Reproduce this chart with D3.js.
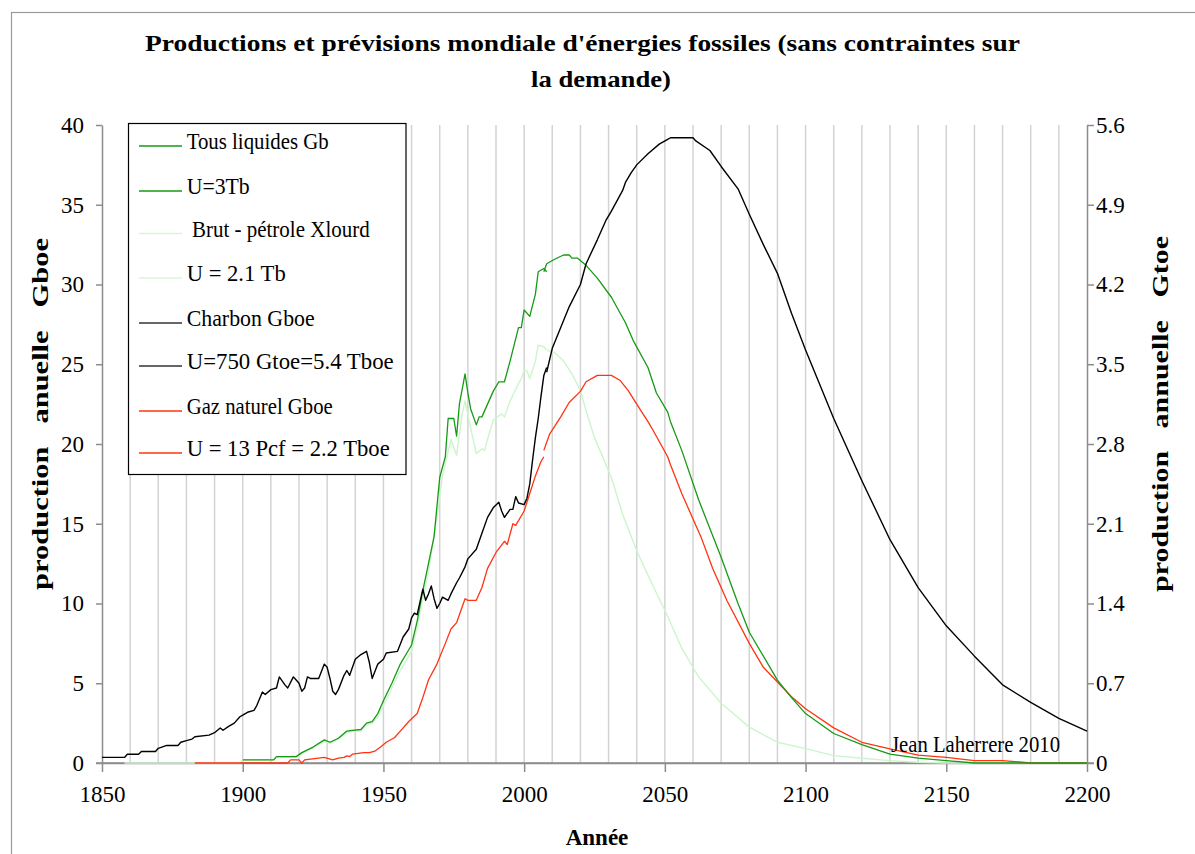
<!DOCTYPE html>
<html><head><meta charset="utf-8">
<script src="https://cdn.jsdelivr.net/npm/d3@7"></script>
<style>
html,body{margin:0;padding:0;background:#fff;}
svg{display:block;}
text{font-family:"Liberation Serif","Times New Roman",serif;fill:#000;}
</style></head>
<body>
<svg id="chart" width="1195" height="854"></svg>
<script>
// ---------- DATA ----------
const titleLines = ["Productions et prévisions mondiale d'énergies fossiles (sans contraintes sur", "la demande)"];
const xTicks = [1850, 1900, 1950, 2000, 2050, 2100, 2150, 2200];
const yTicksLeft = [0, 5, 10, 15, 20, 25, 30, 35, 40];
const yTicksRight = ["0", "0.7", "1.4", "2.1", "2.8", "3.5", "4.2", "4.9", "5.6"];
const legendLabels = ["Tous liquides Gb", "U=3Tb", " Brut - pétrole Xlourd", "U = 2.1 Tb", "Charbon Gboe", "U=750 Gtoe=5.4 Tboe", "Gaz naturel Gboe", "U = 13 Pcf = 2.2 Tboe"];

// Tous liquides Gb (historique)
const liqHistYears = [1900,1911,1912,1919,1921,1925,1929,1931,1934,1937,1939,1942,1944,1946,1948,1950,1953,1956,1958,1960,1962,1964,1966,1968,1970,1972,1973,1975,1976,1977,1979,1980,1981,1983,1984,1985,1987,1989,1991,1993,1995,1998,1999,2000,2002,2004,2005,2007,2008];
const liqHistVals  = [0.2,0.2,0.4,0.4,0.65,1.0,1.45,1.3,1.55,2.0,2.05,2.1,2.5,2.6,3.1,3.9,5.0,6.2,6.8,7.4,8.9,10.8,12.5,14.2,17.9,19.2,21.6,21.6,20.5,22.5,24.4,23.2,22.2,21.2,21.7,21.7,22.5,23.3,23.9,23.9,25.2,27.3,27.3,28.4,28.0,29.4,30.8,31.0,30.8];
// U=3Tb (prévision)
const liqFcYears = [2007,2008,2011,2014,2016,2017,2019,2022,2026,2031,2036,2039,2044,2047,2051,2052,2056,2062,2070,2076,2080,2090,2095,2100,2110,2120,2130,2140,2150,2160,2200];
const liqFcVals  = [30.8,31.3,31.6,31.85,31.85,31.65,31.65,31.2,30.4,29.2,27.6,26.4,24.8,23.2,22.0,21.4,19.6,16.5,12.9,10.0,8.2,5.2,4.1,3.1,1.85,1.15,0.55,0.3,0.15,0.0,0.0];

// Brut - pétrole Xlourd (historique)
const crudeHistYears = [1858,1899,1900,1911,1912,1919,1921,1925,1929,1931,1934,1937,1939,1942,1944,1946,1948,1950,1953,1956,1958,1960,1962,1964,1966,1969,1971,1974,1976,1978,1979,1981,1983,1985,1986,1987,1989,1992,1993,1995,1998,1999,2000,2001,2002,2004,2005,2007,2008];
const crudeHistVals  = [0,0,0.2,0.2,0.35,0.35,0.6,0.95,1.35,1.25,1.5,1.9,2.0,2.0,2.4,2.5,2.9,3.6,4.7,5.8,6.4,7.0,8.5,10.3,12.0,15.4,18.0,20.3,19.3,21.9,22.7,21.0,19.4,19.7,19.6,20.3,21.5,21.9,21.7,22.7,23.8,24.1,24.6,24.6,24.1,25.2,26.2,26.1,25.9];
// U = 2.1 Tb (prévision)
const crudeFcYears = [2008,2011,2014,2017,2020,2022,2025,2031,2035,2040,2045,2051,2056,2062,2070,2080,2090,2100,2110,2120,2130,2140,2150,2200];
const crudeFcVals  = [25.9,25.7,25.2,24.4,23.35,22.1,20.4,17.9,15.6,13.3,11.4,9.2,7.2,5.4,3.75,2.25,1.3,0.9,0.46,0.3,0.15,0.05,0,0];

// Charbon Gboe (historique)
const coalHistYears = [1850,1858,1859,1863,1864,1869,1870,1873,1877,1878,1880,1882,1883,1888,1890,1892,1893,1895,1897,1899,1900,1902,1904,1905,1907,1908,1910,1912,1913,1915,1916,1918,1919,1920,1921,1922,1923,1924,1927,1929,1930,1931,1932,1933,1934,1936,1937,1938,1940,1942,1944,1945,1946,1948,1950,1951,1955,1957,1959,1960,1961,1962,1964,1965,1966,1967,1968,1969,1970,1971,1973,1974,1976,1977,1979,1980,1983,1985,1987,1989,1991,1992,1993,1995,1996,1997,1998,2000,2001,2002,2003,2004,2005,2006,2007,2008];
const coalHistVals  = [0.35,0.35,0.55,0.55,0.72,0.72,0.92,1.1,1.1,1.3,1.4,1.5,1.65,1.75,1.9,2.2,2.05,2.3,2.5,2.9,3.0,3.2,3.3,3.6,4.45,4.3,4.6,4.7,5.4,4.9,4.7,5.4,5.2,5.0,4.5,4.7,5.4,5.3,5.3,6.2,6.0,5.3,4.5,4.3,4.6,5.5,5.8,5.5,6.5,6.8,7.0,6.3,5.3,6.2,6.5,6.9,7.0,7.9,8.4,9.1,9.4,9.3,10.9,10.2,10.6,11.1,10.3,9.7,10.0,10.4,10.2,10.6,11.3,11.6,12.3,12.8,13.4,14.4,15.4,16.0,16.35,15.8,15.4,15.9,15.9,16.7,16.3,16.2,16.6,17.5,19.0,20.4,21.6,23.0,24.3,24.8];
// U=750 Gtoe=5.4 Tboe (prévision)
const coalFcYears = [2008,2010,2013,2016,2020,2022,2026,2029,2031,2035,2036,2038,2040,2044,2048,2051,2052,2060,2061,2066,2070,2076,2080,2085,2090,2095,2100,2110,2120,2130,2140,2150,2160,2170,2180,2190,2200];
const coalFcVals  = [24.5,26.0,27.3,28.6,30.0,31.3,32.8,34.0,34.6,35.9,36.4,37.0,37.5,38.2,38.8,39.1,39.2,39.2,39.0,38.4,37.4,36.0,34.4,32.5,30.7,28.2,25.9,21.6,17.7,14.0,11.0,8.6,6.7,4.9,3.8,2.8,2.0];

// Gaz naturel Gboe (historique)
const gasHistYears = [1883,1916,1917,1920,1921,1922,1929,1932,1934,1936,1937,1938,1939,1943,1945,1947,1949,1951,1954,1956,1959,1962,1963,1964,1966,1969,1972,1974,1976,1977,1979,1980,1983,1985,1987,1990,1993,1994,1996,1997,2000,2002,2004,2006,2007];
const gasHistVals  = [0,0,0.2,0.2,0,0.2,0.35,0.2,0.3,0.35,0.45,0.4,0.55,0.65,0.65,0.75,1.0,1.3,1.6,2.0,2.6,3.1,3.6,4.1,5.2,6.2,7.5,8.4,8.8,9.3,10.3,10.2,10.2,11.0,12.2,13.2,13.9,13.7,15.0,14.9,15.8,16.9,18.0,18.9,19.2];
// U = 13 Pcf = 2.2 Tboe (prévision)
const gasFcYears = [2007,2009,2013,2016,2020,2022,2026,2031,2034,2037,2040,2044,2046,2051,2052,2056,2063,2067,2072,2080,2085,2095,2100,2110,2120,2130,2140,2150,2160,2170,2180,2200];
const gasFcVals  = [19.6,20.6,21.7,22.6,23.3,23.9,24.3,24.3,24.0,23.35,22.5,21.4,20.8,19.2,18.7,16.9,14.1,12.2,10.2,7.5,6.0,4.15,3.4,2.2,1.3,0.88,0.5,0.35,0.15,0.15,0,0];

const signature = "Jean Laherrere 2010";

// ---------- LAYOUT ----------
const svg = d3.select("#chart");
const X0 = 102, X1 = 1087, Y0 = 763, Y1 = 125;
const x = d3.scaleLinear().domain([1850, 2200]).range([X0, X1]);
const y = d3.scaleLinear().domain([0, 40]).range([Y0, Y1]);
const yR = d3.scaleLinear().domain([0, 5.6]).range([Y0, Y1]);
const axisColor = "#8c8c8c";
const fontStack = '"Liberation Serif","Times New Roman",serif';

// outer frame (top and left edges visible)
svg.append("rect").attr("x", 11.5).attr("y", 12.5).attr("width", 1300).attr("height", 1000)
  .attr("fill", "none").attr("stroke", "#999").attr("stroke-width", 1.2);

// vertical gridlines every 10 years
svg.append("g").selectAll("line").data(d3.range(1860, 2200, 10)).join("line")
  .attr("x1", d => x(d)).attr("x2", d => x(d)).attr("y1", Y1).attr("y2", Y0)
  .attr("stroke", "#d3d3d3").attr("stroke-width", 1.5);

// axes
function styleAxis(g){
  g.selectAll("path.domain").attr("stroke", axisColor).attr("stroke-width", 1.5);
  g.selectAll(".tick line").attr("stroke", axisColor).attr("stroke-width", 1.5);
  g.selectAll(".tick text").attr("font-family", fontStack).attr("font-size", 23).attr("fill", "#000");
}
const gL = svg.append("g").attr("transform", `translate(${X0},0)`)
  .call(d3.axisLeft(y).tickValues(yTicksLeft).tickSize(6).tickSizeOuter(0).tickPadding(12).tickFormat(d3.format("d")));
styleAxis(gL);
const gR = svg.append("g").attr("transform", `translate(${X1},0)`)
  .call(d3.axisRight(yR).tickValues(yTicksRight.map(Number)).tickSize(7).tickSizeOuter(0).tickPadding(2).tickFormat((d,i) => yTicksRight[i]));
styleAxis(gR);
const gB = svg.append("g").attr("transform", `translate(0,${Y0})`)
  .call(d3.axisBottom(x).tickValues(xTicks).tickSize(9).tickSizeOuter(0).tickPadding(14).tickFormat(d3.format("d")));
styleAxis(gB);
// extend bottom axis line left to form 0 tick
svg.append("line").attr("x1", X0 - 6).attr("x2", X1 + 7).attr("y1", Y0).attr("y2", Y0)
  .attr("stroke", axisColor).attr("stroke-width", 1.5);

// series
const line = d3.line().x(d => x(d[0])).y(d => y(d[1])).curve(d3.curveLinear);
const zip = (a, b) => a.map((v, i) => [v, b[i]]);
const colGreen = "#169a16", colLight = "#ccf5cc", colBlack = "#000", colRed = "#ff3311";
const series = [
  {d: zip(crudeHistYears, crudeHistVals), c: colLight, w: 1.4},
  {d: zip(crudeFcYears, crudeFcVals), c: colLight, w: 1.4},
  {d: zip(gasHistYears, gasHistVals), c: colRed, w: 1.3},
  {d: zip(gasFcYears, gasFcVals), c: colRed, w: 1.3},
  {d: zip(liqHistYears, liqHistVals), c: colGreen, w: 1.3},
  {d: zip(liqFcYears, liqFcVals), c: colGreen, w: 1.3},
  {d: zip(coalHistYears, coalHistVals), c: colBlack, w: 1.4},
  {d: zip(coalFcYears, coalFcVals), c: colBlack, w: 1.4}
];
svg.append("g").selectAll("path").data(series).join("path")
  .attr("d", s => line(s.d)).attr("fill", "none")
  .attr("stroke", s => s.c).attr("stroke-width", s => s.w).attr("stroke-linejoin", "round");

// legend
const legColors = [colGreen, colGreen, "#d6f7d6", "#d6f7d6", "#333", "#333", colRed, colRed];
const legLineY = [146, 191, 233.5, 278, 323, 366, 411, 453];
const legWidths = [142, 63, 177, 99, 128, 207, 146, 203];
const legX = [186.7, 186.7, 186.7, 186.7, 186.7, 186.7, 186.7, 186.7];
const leg = svg.append("g");
leg.append("rect").attr("x", 128.5).attr("y", 123.5).attr("width", 277.5).attr("height", 351)
  .attr("fill", "#fff").attr("stroke", "#000").attr("stroke-width", 1.2);
legendLabels.forEach((t, i) => {
  leg.append("line").attr("x1", 139).attr("x2", 182).attr("y1", legLineY[i]).attr("y2", legLineY[i])
    .attr("stroke", legColors[i]).attr("stroke-width", 1.3);
  leg.append("text").attr("x", legX[i]).attr("y", legLineY[i] + 3.3)
    .attr("font-size", 23).style("white-space", "pre")
    .attr("textLength", i === 2 ? 183 : legWidths[i]).attr("lengthAdjust", "spacingAndGlyphs")
    .text(t);
});

// signature
svg.append("text").attr("x", 891).attr("y", 752).attr("font-size", 23)
  .attr("textLength", 169).attr("lengthAdjust", "spacingAndGlyphs").text(signature);

// title
svg.append("text").attr("x", 145).attr("y", 51).attr("font-size", 23).attr("font-weight", "bold")
  .attr("textLength", 875).attr("lengthAdjust", "spacingAndGlyphs").text(titleLines[0]);
svg.append("text").attr("x", 531).attr("y", 87).attr("font-size", 23).attr("font-weight", "bold")
  .attr("textLength", 140).attr("lengthAdjust", "spacingAndGlyphs").text(titleLines[1]);

// axis titles
svg.append("text").attr("transform", "translate(48,590) rotate(-90)").attr("font-size", 23)
  .attr("font-weight", "bold").style("white-space", "pre")
  .attr("textLength", 352).attr("lengthAdjust", "spacingAndGlyphs")
  .text("production   anuelle   Gboe");
svg.append("text").attr("transform", "translate(1168,592) rotate(-90)").attr("font-size", 23)
  .attr("font-weight", "bold").style("white-space", "pre")
  .attr("textLength", 356).attr("lengthAdjust", "spacingAndGlyphs")
  .text("production   annuelle   Gtoe");
svg.append("text").attr("x", 597).attr("y", 845).attr("font-size", 23).attr("font-weight", "bold")
  .attr("text-anchor", "middle").text("Année");
</script>
</body></html>
